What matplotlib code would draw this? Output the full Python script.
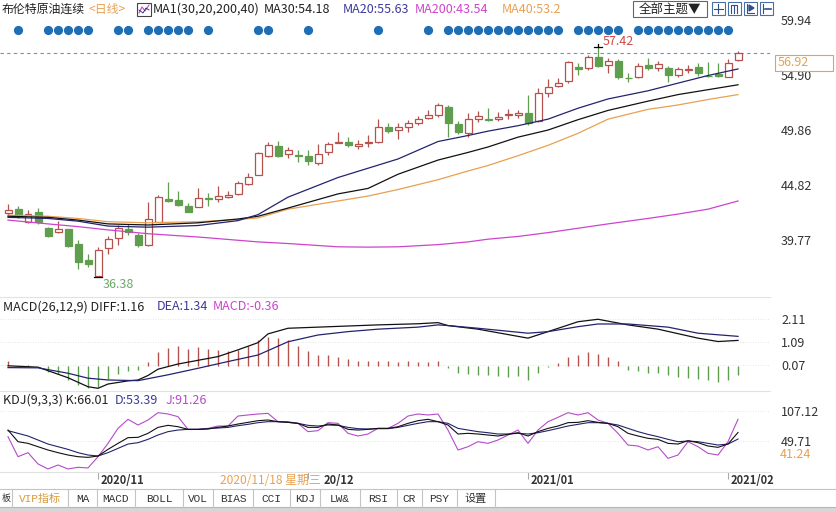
import matplotlib
matplotlib.use("Agg")
import matplotlib.pyplot as plt
from matplotlib.patches import Rectangle
from matplotlib.transforms import blended_transform_factory

plt.rcParams['font.family'] = ['Noto Sans CJK SC', 'DejaVu Sans']

# ---- daily candles ----
opens = [42.23, 42.60, 41.41, 42.33, 40.86, 40.52, 40.77, 39.39, 37.92, 36.50,
         39.01, 39.93, 40.74, 40.23, 39.32, 41.45, 43.53, 43.44, 42.89, 42.83,
         43.60, 43.50, 43.74, 43.99, 44.91, 45.73, 47.47, 48.39, 47.66, 47.54,
         47.47, 46.81, 47.87, 48.69, 48.78, 48.39, 48.69, 48.78, 50.16, 49.86,
         50.10, 50.47, 50.93, 51.23, 51.94, 50.41, 49.55, 50.84, 50.84, 50.84,
         51.25, 51.26, 51.39, 50.71, 53.28, 53.89, 54.38, 55.60, 55.51, 56.52,
         55.82, 56.21, 54.65, 54.74, 55.82, 55.57, 55.51, 54.90, 55.35, 55.60,
         54.85, 54.99, 54.74, 56.30]
highs = [43.06, 42.85, 42.50, 42.70, 40.98, 41.50, 40.80, 39.76, 38.47, 39.11,
         40.14, 41.15, 41.24, 40.44, 43.29, 43.90, 45.12, 44.29, 43.17, 44.52,
         44.08, 44.72, 44.29, 45.20, 45.94, 47.87, 48.79, 48.85, 48.33, 48.02,
         48.02, 48.57, 48.80, 49.70, 49.19, 48.97, 49.40, 50.84, 50.53, 50.53,
         50.77, 51.14, 51.69, 52.36, 52.15, 50.71, 51.39, 51.60, 51.85, 51.50,
         51.75, 51.70, 53.07, 53.68, 54.50, 54.60, 56.21, 55.97, 56.70, 57.42,
         56.43, 56.34, 55.11, 55.97, 56.43, 56.20, 55.72, 55.60, 55.82, 56.03,
         56.12, 56.03, 56.34, 57.10]
lows = [42.05, 41.80, 41.35, 41.23, 40.03, 40.40, 39.10, 37.10, 37.28, 36.38,
        38.49, 39.32, 40.23, 39.16, 39.20, 41.40, 43.30, 42.89, 42.30, 42.80,
        42.89, 43.30, 43.60, 43.90, 44.80, 45.70, 47.40, 47.36, 47.26, 46.95,
        46.65, 46.65, 47.60, 48.64, 48.27, 48.10, 48.33, 48.70, 49.61, 49.00,
        49.70, 50.30, 50.84, 51.08, 49.19, 49.49, 49.19, 50.60, 50.70, 50.70,
        50.84, 51.00, 50.32, 50.62, 52.91, 53.77, 54.20, 54.90, 55.40, 55.60,
        55.11, 54.50, 54.29, 54.60, 55.40, 55.30, 54.29, 54.74, 55.05, 54.81,
        54.75, 54.75, 54.69, 56.20]
closes = [42.51, 41.96, 42.14, 41.41, 40.12, 40.77, 39.21, 37.77, 37.62, 38.90,
          39.84, 40.85, 40.55, 39.32, 41.67, 43.69, 43.38, 42.98, 42.37, 43.60,
          43.50, 43.81, 43.90, 44.97, 45.52, 47.72, 48.48, 47.47, 48.02, 47.48,
          47.04, 47.66, 48.57, 48.78, 48.48, 48.57, 48.76, 50.10, 49.79, 50.10,
          50.53, 50.84, 51.23, 52.15, 50.53, 49.70, 50.84, 51.14, 50.75, 51.02,
          51.30, 51.44, 50.47, 53.28, 53.83, 54.19, 56.12, 55.42, 56.58, 55.72,
          56.21, 54.74, 54.60, 55.72, 55.51, 55.88, 54.90, 55.42, 55.44, 55.05,
          54.81, 54.81, 55.97, 56.92]

# moving averages, read at a few candles
ma_idx = [0, 4, 7, 10, 14, 19, 23, 25, 28, 33, 36, 39, 43, 46, 48, 51, 54, 57, 60, 64, 67, 70, 73]
ma20 = [41.85, 41.75, 41.5, 41.05, 40.95, 41.1, 41.55, 42.1, 43.7, 45.5, 46.35, 47.2,
        48.8, 49.35, 49.75, 50.25, 50.85, 51.85, 52.7, 53.45, 54.15, 54.85, 55.45]
ma30 = [41.95, 41.85, 41.6, 41.25, 41.15, 41.35, 41.7, 41.95, 42.7, 44.0, 44.5, 45.8,
        47.1, 47.8, 48.3, 49.2, 49.85, 50.8, 51.65, 52.5, 53.1, 53.55, 54.0]
ma40 = [42.05, 41.95, 41.75, 41.45, 41.35, 41.45, 41.65, 41.8, 42.6, 43.35, 43.8, 44.4,
        45.3, 46.1, 46.6, 47.5, 48.45, 49.55, 50.85, 51.75, 52.15, 52.65, 53.1]
ma200 = [41.6, 41.25, 41.0, 40.7, 40.35, 40.05, 39.75, 39.6, 39.45, 39.15, 39.12, 39.15,
         39.35, 39.6, 39.85, 40.1, 40.45, 40.85, 41.25, 41.75, 42.15, 42.6, 43.35]

signal_days = [1, 4, 5, 6, 7, 8, 11, 12, 14, 15, 16, 17, 18, 20, 25, 26, 30, 37, 42,
               44, 45, 46, 47, 48, 49, 50, 51, 52, 53, 54, 55,
               57, 58, 59, 60, 61,
               63, 64, 65, 66, 67, 68, 69, 70, 71, 72]

# MACD
diff_idx = [0, 3, 6, 8, 9, 10, 12, 13, 14, 15, 17, 21, 23, 25, 26, 28, 31, 34, 37, 41,
            43, 44, 47, 52, 54, 57, 59, 62, 65, 69, 71, 73]
diff_vals = [0.03, -0.03, -0.50, -0.90, -0.97, -0.78, -0.64, -0.60, -0.40, -0.12, 0.11,
             0.44, 0.74, 1.06, 1.45, 1.70, 1.75, 1.80, 1.85, 1.90, 1.95, 1.82, 1.66,
             1.26, 1.55, 1.99, 2.10, 1.85, 1.66, 1.26, 1.11, 1.16]
dea_idx = [0, 3, 6, 8, 10, 13, 16, 19, 22, 25, 28, 31, 34, 37, 41, 43, 44, 47, 52, 54,
           57, 59, 62, 66, 69, 73]
dea_vals = [-0.05, -0.06, -0.30, -0.52, -0.60, -0.63, -0.37, -0.08, 0.22, 0.51, 1.10,
            1.40, 1.55, 1.66, 1.75, 1.85, 1.82, 1.70, 1.48, 1.55, 1.77, 1.89, 1.89,
            1.75, 1.48, 1.34]
macd_hist = [0.24, 0.04, 0.06, 0.0, -0.25, -0.33, -0.59, -0.84, -0.95, -0.92,
             -0.55, -0.33, -0.21, -0.15, 0.19, 0.64, 0.83, 0.89, 0.79, 0.86,
             0.79, 0.74, 0.71, 0.74, 0.89, 1.16, 1.33, 1.27, 1.16, 0.93,
             0.68, 0.53, 0.49, 0.44, 0.34, 0.24, 0.24, 0.24, 0.24, 0.19,
             0.24, 0.19, 0.19, 0.24, -0.06, -0.30, -0.33, -0.36, -0.40, -0.44,
             -0.47, -0.44, -0.62, -0.30, -0.04, 0.15, 0.44, 0.53, 0.64, 0.56,
             0.44, 0.24, -0.15, -0.21, -0.30, -0.30, -0.36, -0.47, -0.50, -0.55,
             -0.62, -0.70, -0.60, -0.36]

# KDJ
k_vals = [70.7, 48.4, 45.2, 38.8, 32.5, 27.4, 22.9, 19.7, 18.4, 21.0,
          33.7, 45.2, 56.1, 56.7, 64.4, 75.8, 79.7, 77.1, 72.0, 72.0,
          72.7, 75.8, 78.4, 82.2, 85.4, 88.6, 89.9, 86.7, 85.4, 83.5,
          75.8, 75.8, 82.2, 80.3, 72.0, 70.7, 72.0, 73.9, 73.9, 77.1,
          83.5, 88.6, 91.2, 86.7, 80.3, 63.1, 64.4, 63.1, 61.2, 59.3,
          62.4, 65.6, 59.3, 67.6, 73.9, 78.4, 84.8, 85.4, 88.6, 85.4,
          83.5, 77.1, 64.4, 59.3, 54.8, 52.9, 45.2, 43.9, 50.3, 46.5,
          40.1, 37.6, 43.9, 66.0]
d_vals = [69.5, 64.4, 59.3, 51.6, 43.9, 38.8, 33.7, 27.4, 22.9, 21.0,
          27.4, 35.6, 43.9, 46.5, 52.9, 61.2, 67.6, 70.7, 72.0, 72.0,
          73.3, 74.6, 75.8, 79.0, 81.6, 84.8, 86.7, 86.7, 85.4, 83.5,
          79.7, 78.4, 80.3, 79.7, 75.8, 73.3, 72.7, 73.3, 73.3, 75.8,
          79.7, 83.5, 86.7, 86.7, 83.5, 73.9, 70.7, 67.6, 65.6, 63.1,
          63.1, 64.4, 63.1, 65.6, 69.5, 73.9, 78.4, 81.6, 84.8, 84.8,
          83.5, 80.3, 73.9, 67.6, 62.4, 58.0, 52.9, 48.4, 49.7, 48.4,
          45.2, 42.0, 43.9, 53.4]
j_vals = [58.0, 19.7, 27.4, 5.8, -3.8, 3.8, -3.8, -0.6, -1.9, 19.7,
          45.2, 73.9, 91.2, 80.3, 89.9, 103.9, 101.4, 96.3, 72.0, 72.0,
          73.9, 78.4, 78.4, 97.5, 99.5, 101.4, 102.6, 86.7, 86.7, 83.5,
          67.6, 69.5, 84.8, 83.5, 64.4, 59.3, 63.1, 73.9, 73.9, 83.5,
          97.5, 101.4, 99.5, 101.4, 70.7, 32.5, 38.8, 48.4, 45.2, 51.6,
          61.2, 70.7, 45.2, 70.7, 86.7, 95.0, 103.9, 99.5, 103.9, 89.9,
          83.5, 64.4, 42.0, 40.1, 32.5, 38.8, 16.5, 22.9, 48.4, 38.8,
          26.1, 22.9, 48.4, 91.2]

month_idx = [9, 30, 52, 72]
# the 2020/12 label is half hidden behind the crosshair date, only "20/12" shows
month_labels = ['2020/11', '20/12', '2021/01', '2021/02']
price_ticks = [59.94, 54.90, 49.86, 44.82, 39.77]
macd_ticks = [2.11, 1.09, 0.07]
kdj_ticks = [107.12, 49.71]
tab_names = ['板', 'VIP指标', 'MA', 'MACD', 'BOLL', 'VOL', 'BIAS', 'CCI', 'KDJ',
             'LW&', 'RSI', 'CR', 'PSY', '设置']

# colours
RED = '#b5524e'
GREEN = '#5e9e4e'
NAVY = '#23236e'
MAGENTA = '#cc44cc'
ORANGE = '#e8a050'
PURPLE = '#b54bc9'

W, H = 837, 512
fig = plt.figure(figsize=(W / 100, H / 100), dpi=100)
fig.patch.set_facecolor('white')


def px_axes(x0, y0, x1, y1):
    return fig.add_axes([x0 / W, 1 - y1 / H, (x1 - x0) / W, (y1 - y0) / H])


ax = px_axes(0, 12, 770, 297)
ax_macd = px_axes(0, 297, 770, 391)
ax_kdj = px_axes(0, 391, 770, 472)
over = fig.add_axes([0, 0, 1, 1], facecolor='none')
over.set_xlim(0, W)
over.set_ylim(H, 0)
over.axis('off')

n = len(closes)
idx = list(range(n))

# ---- candles ----
up = [c >= o for o, c in zip(opens, closes)]
edge = [RED if u else GREEN for u in up]
face = ['white' if u else GREEN for u in up]
bottoms = [min(o, c) for o, c in zip(opens, closes)]
heights = [max(abs(c - o), 0.04) for o, c in zip(opens, closes)]
ax.vlines(idx, lows, highs, colors=edge, lw=0.9, zorder=2)
ax.bar(idx, heights, bottom=bottoms, width=0.7, color=face, edgecolor=edge,
       linewidth=0.9, zorder=3)

ax.plot(ma_idx, ma200, color=MAGENTA, lw=0.9, zorder=4)
ax.plot(ma_idx, ma40, color=ORANGE, lw=0.9, zorder=4)
ax.plot(ma_idx, ma30, color='#111111', lw=0.9, zorder=4)
ax.plot(ma_idx, ma20, color=NAVY, lw=0.9, zorder=4)

ax.axhline(closes[-1], color='#5b9bc9', lw=0.8, ls=(0, (3, 3)), zorder=1)

# extreme marks
hi_i = highs.index(max(highs))
lo_i = lows.index(min(lows))
ax.plot([hi_i - 0.4, hi_i + 0.4], [highs[hi_i]] * 2, color='black', lw=0.9, zorder=5)
ax.plot([hi_i, hi_i], [highs[hi_i], highs[hi_i] + 0.3], color='black', lw=0.9, zorder=5)
ax.plot([lo_i - 0.4, lo_i + 0.4], [lows[lo_i]] * 2, color='black', lw=0.9, zorder=5)
ax.text(hi_i + 0.5, highs[hi_i] - 0.05, f'{max(highs):.2f}', color='#d04a4a',
        fontsize=9, ha='left', va='bottom')
ax.text(lo_i + 0.5, lows[lo_i] - 0.1, f'{min(lows):.2f}', color='#6aa86a',
        fontsize=9, ha='left', va='top')

# signal dots row
blend_main = blended_transform_factory(ax.transData, over.transData)
ax.plot(signal_days, [30] * len(signal_days), 'o', color='#1f6db4', ms=5.6,
        transform=blend_main, zorder=5)

# ---- MACD ----
hist_col = [RED if v >= 0 else GREEN for v in macd_hist]
ax_macd.vlines(idx, 0, macd_hist, colors=hist_col, lw=1.0)
ax_macd.plot(diff_idx, diff_vals, color='#111111', lw=0.9)
ax_macd.plot(dea_idx, dea_vals, color=NAVY, lw=0.9)

# ---- KDJ ----
ax_kdj.plot(idx, j_vals, color=PURPLE, lw=0.8)
ax_kdj.plot(idx, d_vals, color=NAVY, lw=0.8)
ax_kdj.plot(idx, k_vals, color='#111111', lw=0.8)

for a, ticks, lim in [(ax, price_ticks, (34.55, 60.67)),
                      (ax_macd, macd_ticks, (-1.09, 3.09)),
                      (ax_kdj, kdj_ticks, (-9.6, 145.4))]:
    a.set_xlim(-0.8, 76.2)
    a.set_ylim(*lim)
    for s in a.spines.values():
        s.set_visible(False)
    a.yaxis.tick_right()
    a.set_yticks(ticks)
    a.set_yticklabels([f'{t:.2f}' for t in ticks])
    a.tick_params(axis='y', length=0, pad=8, labelsize=9, labelcolor='#333333')
    a.tick_params(axis='x', bottom=False, labelbottom=False)
    if a is not ax:
        for t in ticks:
            a.axhline(t, color='#dddddd', lw=0.6, ls=(0, (1, 2)), zorder=0)

ax_kdj.set_xticks(month_idx)
ax_kdj.tick_params(axis='x', bottom=True, length=5, color='#aaaaaa', width=0.8)

# panel separators
for y in [297, 391, 472]:
    over.plot([0, 770], [y, y], color='#e2e2e2', lw=0.8)

# current price box
y_close = H - ax.transData.transform((0, closes[-1]))[1]
over.add_patch(Rectangle((775, y_close + 2), 58, 16, fc='white', ec=ORANGE, lw=0.8))
over.text(778, y_close + 10, f'{closes[-1]:.2f}', color=ORANGE, fontsize=9, va='center')

over.text(780, 455, '41.24', color=ORANGE, fontsize=9, va='center')

# ---- header ----
hy = 9.5
over.text(2, hy, '布伦特原油连续', fontsize=8.6, va='center', color='#222222')
over.text(89, hy, '<日线>', fontsize=8.6, va='center', color=ORANGE)
over.add_patch(Rectangle((137, 3), 14, 13, fc='white', ec='#444444', lw=0.8))
over.plot([139, 142, 145, 149], [13, 7, 11, 5], color=MAGENTA, lw=0.8)
over.plot([139, 143, 146, 149], [10, 13, 8, 10], color=NAVY, lw=0.6)
over.text(153, hy, 'MA1(30,20,200,40)', fontsize=9, va='center', color='#222222')
over.text(264, hy, 'MA30:54.18', fontsize=9, va='center', color='#222222')
over.text(343, hy, 'MA20:55.63', fontsize=9, va='center', color='#3b3b9b')
over.text(415, hy, 'MA200:43.54', fontsize=9, va='center', color=MAGENTA)
over.text(502, hy, 'MA40:53.2', fontsize=9, va='center', color=ORANGE)

over.add_patch(Rectangle((633, 1), 74, 16, fc='white', ec='#666666', lw=0.8))
over.text(670, 9, '全部主题▼', fontsize=9, ha='center', va='center', color='#222222')
for x0 in [712, 728, 744, 760]:
    over.add_patch(Rectangle((x0, 2), 13, 13, fc='white', ec='#4a6fa5', lw=0.8))
over.plot([718.5, 718.5], [4, 13], color='#2f4f8f', lw=0.8)
over.plot([714, 723], [8.5, 8.5], color='#2f4f8f', lw=0.8)
over.plot([731, 731, 737, 737], [13, 5, 5, 13], color='#2f4f8f', lw=0.8)
over.plot([734, 734], [5, 13], color='#2f4f8f', lw=0.8)
over.plot([747, 747, 754], [4, 13, 13], color='#2f4f8f', lw=0.8)
over.fill([749, 749, 754], [5, 11, 8], color='#2f4f8f')
over.plot([763, 763], [4, 13], color='#2f4f8f', lw=0.8)
over.plot([765, 771], [8.5, 8.5], color='#2f4f8f', lw=1.2)

# panel titles
over.text(3, 307, 'MACD(26,12,9) DIFF:1.16', fontsize=9, va='center', color='#222222')
over.text(157, 307, 'DEA:1.34', fontsize=9, va='center', color='#3b3b9b')
over.text(213, 307, 'MACD:-0.36', fontsize=9, va='center', color=MAGENTA)
over.text(3, 400, 'KDJ(9,3,3) K:66.01', fontsize=9, va='center', color='#222222')
over.text(115, 400, 'D:53.39', fontsize=9, va='center', color='#3b3b9b')
over.text(166, 400, 'J:91.26', fontsize=9, va='center', color=PURPLE)

# month labels
blend_kdj = blended_transform_factory(ax_kdj.transData, over.transData)
for m, lab in zip(month_idx, month_labels):
    # the half-hidden label sits just right of the crosshair date
    xpos = m + 1.55 if len(lab) < 7 else m + 0.25
    fig.text(xpos, 480, lab, transform=blend_kdj, fontsize=8, fontweight='bold',
             color='#333333', va='center', ha='left')
fig.text(321 / W, 1 - 480 / H, '2020/11/18 星期三', fontsize=8.6, color=ORANGE,
         ha='right', va='center')

# ---- tab bar ----
over.add_patch(Rectangle((0, 489), W, 18, fc='white', ec='none'))
over.add_patch(Rectangle((0, 507), W, 5, fc='#d6d6d6', ec='none'))
over.plot([0, W], [489, 489], color='#c4c4c4', lw=0.8)
over.plot([0, W], [507, 507], color='#b8b8b8', lw=0.8)
tab_edges = [0, 12, 68, 97, 135, 183, 213, 253, 290, 320, 360, 397, 422, 457, 495]
for e in tab_edges[1:]:
    over.plot([e, e], [489, 507], color='#c4c4c4', lw=0.8)
for k, name in enumerate(tab_names):
    cx = (tab_edges[k] + tab_edges[k + 1]) / 2
    over.text(cx, 498.5, name, fontsize=8 if k else 6.5, ha='center', va='center',
              family=['Liberation Mono', 'Noto Sans CJK SC'],
              color='#d99a3a' if name == 'VIP指标' else '#333333')

fig.savefig('out.png', dpi=100)
